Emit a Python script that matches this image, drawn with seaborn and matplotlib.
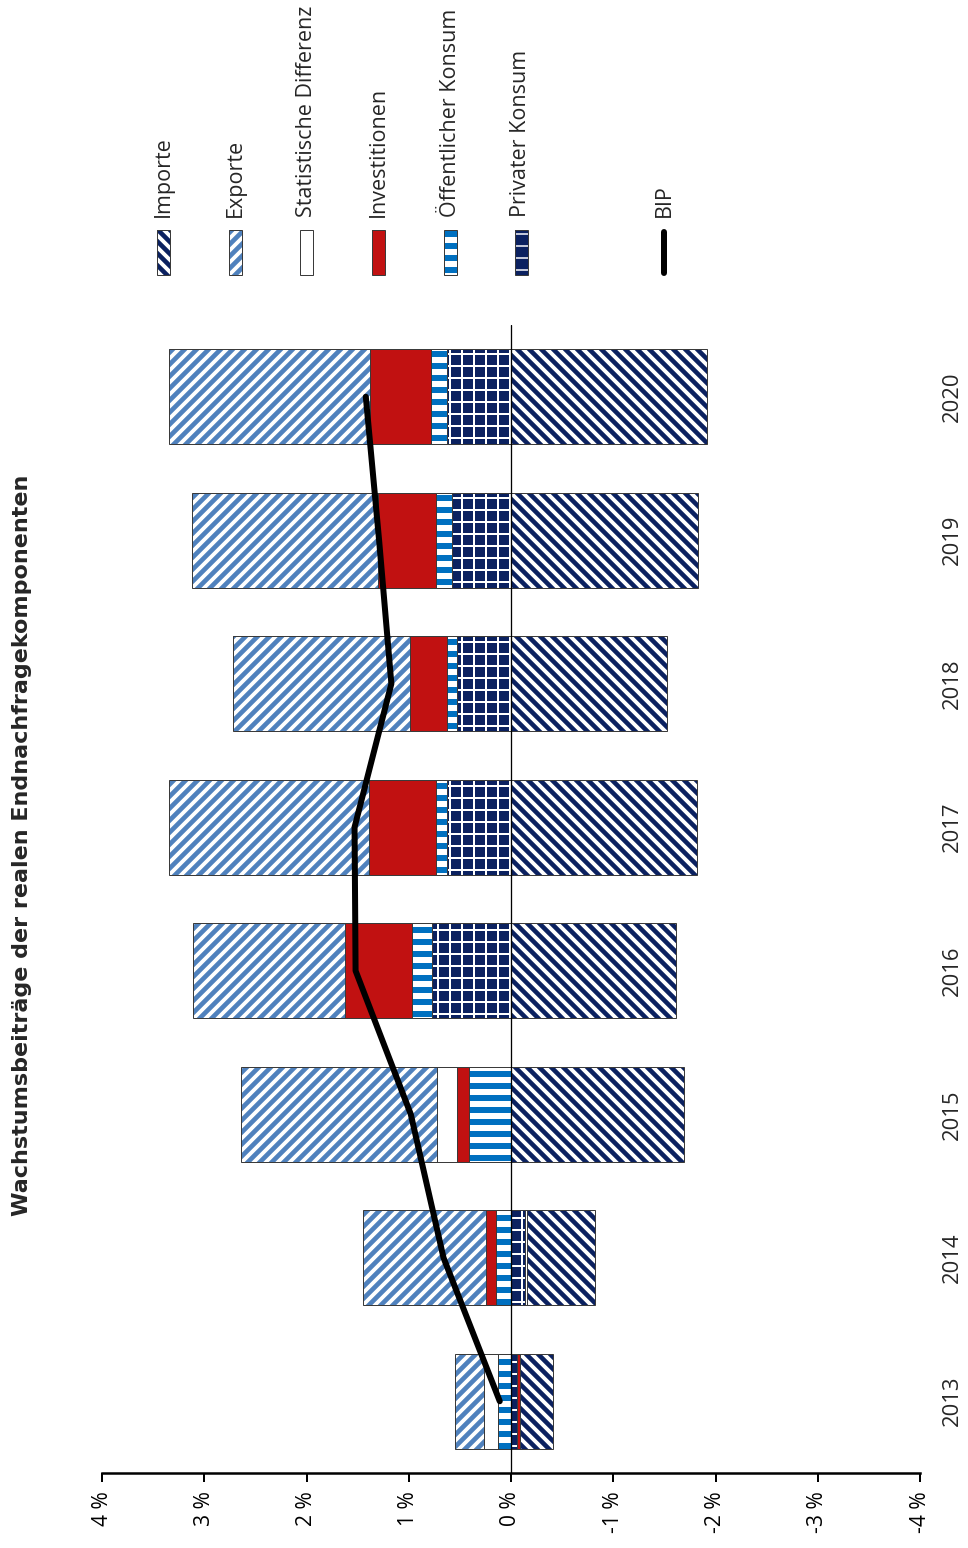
import matplotlib
matplotlib.use('Agg')
import matplotlib.pyplot as plt
from matplotlib.patches import Rectangle
from matplotlib.lines import Line2D
import seaborn as sns
import numpy as np

# Wachstumsbeitraege in Prozentpunkten, Jahre 2013-2020
years = ['2013', '2014', '2015', '2016', '2017', '2018', '2019', '2020']
privat = [-0.06, -0.14, 0.0, 0.77, 0.63, 0.53, 0.58, 0.63]
oeffentlich = [0.13, 0.15, 0.41, 0.20, 0.10, 0.10, 0.15, 0.15]
investitionen = [-0.03, 0.09, 0.12, 0.65, 0.66, 0.36, 0.57, 0.60]
stat_diff = [0.13, -0.02, 0.19, 0.0, 0.0, 0.0, 0.0, 0.0]
exporte = [0.29, 1.21, 1.92, 1.49, 1.95, 1.73, 1.82, 1.96]
importe = [-0.32, -0.66, -1.69, -1.61, -1.82, -1.53, -1.83, -1.92]
bip = [0.11, 0.66, 0.98, 1.52, 1.53, 1.17, 1.29, 1.42]

xticks = [4, 3, 2, 1, 0, -1, -2, -3, -4]
xticklabels = ['%d %%' % t for t in xticks]

NAVY = '#0b2160'
EXPBLUE = '#4f81bd'
OEFBLUE = '#0070c0'
RED = '#c11111'
EDGE = '#3a3a3a'

# name, values, facecolor, hatch, hatchcolor, hatch lw
series = [
    ('Privater Konsum', privat, NAVY, '+', 'white', 2.0),
    ('Öffentlicher Konsum', oeffentlich, 'white', '-', OEFBLUE, 6.0),
    ('Investitionen', investitionen, RED, None, None, 0),
    ('Statistische Differenz', stat_diff, 'white', None, None, 0),
    ('Exporte', exporte, EXPBLUE, '//', 'white', 3.8),
    ('Importe', importe, 'white', '\\\\', NAVY, 4.6),
]

sns.set_style('white')
plt.rcParams['font.family'] = ['Open Sans', 'DejaVu Sans']

W, H = 968, 1548
fig = plt.figure(figsize=(W / 72, H / 72), dpi=72)
ax = fig.add_axes([102 / W, (H - 1473) / H, 818 / W, (1473 - 325) / H])


def hatched(axis, y, w, left, face, hatch, hcol, hlw, height):
    axis.barh(y, w, left=left, height=height, color=face, edgecolor='none', linewidth=0, zorder=2)
    if hatch:
        with plt.rc_context({'hatch.linewidth': hlw}):
            bars = axis.barh(y, w, left=left, height=height, color='none', edgecolor=hcol,
                             hatch=hatch, linewidth=0, zorder=2)
        for b in bars:
            if hasattr(b, 'set_hatch_linewidth'):
                b.set_hatch_linewidth(hlw)
    axis.barh(y, w, left=left, height=height, fill=False, edgecolor=EDGE, linewidth=1, zorder=3)


pos = np.arange(len(years))
pos_cum = np.zeros(len(years))
neg_cum = np.zeros(len(years))
for name, vals, face, hatch, hcol, hlw in series:
    for i, v in enumerate(vals):
        if v == 0:
            continue
        if v > 0:
            hatched(ax, pos[i], v, pos_cum[i], face, hatch, hcol, hlw, 0.66)
            pos_cum[i] += v
        else:
            hatched(ax, pos[i], v, neg_cum[i], face, hatch, hcol, hlw, 0.66)
            neg_cum[i] += v

sns.lineplot(x=bip, y=pos, sort=False, orient='y', estimator=None, color='black',
             linewidth=6, ax=ax, zorder=5)
ax.axvline(0, color='black', linewidth=1.3, zorder=4)

ax.set_xlim(4, -4)
ax.set_ylim(-0.5, 7.5)
ax.set_xticks(xticks)
ax.set_xticklabels(xticklabels)
ax.set_yticks([])
for s in ['left', 'top', 'right']:
    ax.spines[s].set_visible(False)
ax.spines['bottom'].set_linewidth(2.5)
ax.spines['bottom'].set_color('black')
ax.tick_params(axis='x', direction='out', length=9, width=2, pad=9,
               labelrotation=90, labelsize=21, colors='black', bottom=True)
ax.set_xlabel('')
ax.set_ylabel('')

for i, yr in enumerate(years):
    ax.text(1.04, pos[i], yr, transform=ax.get_yaxis_transform(), rotation=90,
            ha='center', va='center', fontsize=22)

# overlay in pixel coords for title and legend
ov = fig.add_axes([0, 0, 1, 1], zorder=-1)
ov.set_xlim(0, W)
ov.set_ylim(H, 0)
ov.axis('off')

ov.text(22, 845, 'Wachstumsbeiträge der realen Endnachfragekomponenten', rotation=90,
        ha='center', va='center', fontsize=22.2, fontweight='bold', family='DejaVu Sans')

legend_items = [
    ('Importe', 163, 'white', '\\\\', NAVY, 4.6),
    ('Exporte', 235, EXPBLUE, '//', 'white', 3.8),
    ('Statistische Differenz', 306, 'white', None, None, 0),
    ('Investitionen', 378, RED, None, None, 0),
    ('Öffentlicher Konsum', 450, 'white', '-', OEFBLUE, 6.0),
    ('Privater Konsum', 521, NAVY, '-', 'white', 1.5),
]
for name, xc, face, hatch, hcol, hlw in legend_items:
    ov.add_patch(Rectangle((xc - 6.5, 230), 13, 45, facecolor=face, edgecolor='none', linewidth=0))
    if hatch:
        with plt.rc_context({'hatch.linewidth': hlw}):
            r = Rectangle((xc - 6.5, 230), 13, 45, facecolor='none', edgecolor=hcol,
                          hatch=hatch, linewidth=0)
        if hasattr(r, 'set_hatch_linewidth'):
            r.set_hatch_linewidth(hlw)
        ov.add_patch(r)
    ov.add_patch(Rectangle((xc - 6.5, 230), 13, 45, fill=False, edgecolor=EDGE, linewidth=1))
    ov.text(xc, 217, name, rotation=90, ha='center', va='bottom', fontsize=21.5)

ov.add_line(Line2D([664, 664], [232, 273], color='black', linewidth=6, solid_capstyle='round'))
ov.text(664, 217, 'BIP', rotation=90, ha='center', va='bottom', fontsize=21.5)

fig.savefig('out.png', dpi=72)
